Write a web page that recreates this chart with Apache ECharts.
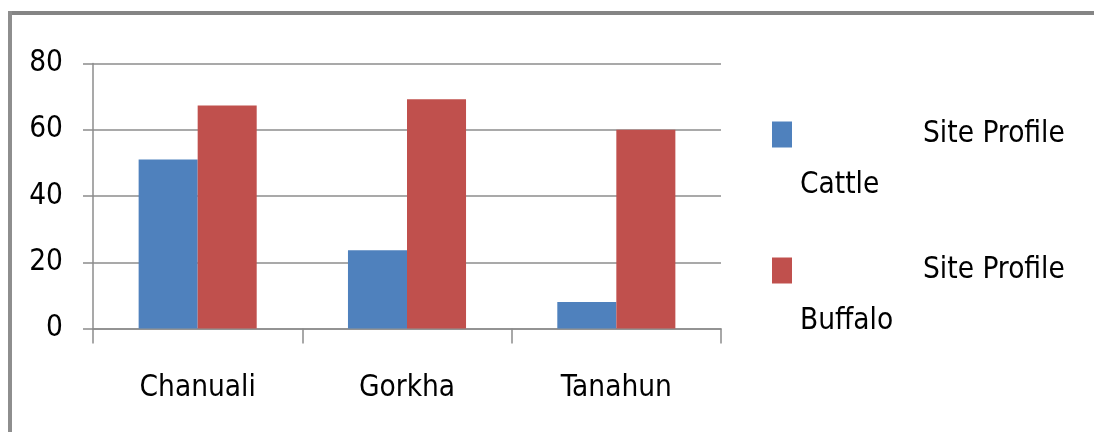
<!DOCTYPE html>
<html>
<head>
<meta charset="utf-8">
<script src="https://cdn.jsdelivr.net/npm/echarts@6/dist/echarts.min.js"></script>
<style>
html,body{margin:0;padding:0;background:#fff;}
#chart{width:1094px;height:432px;}
</style>
</head>
<body>
<div id="chart"></div>
<script>
const categories = ['Chanuali', 'Gorkha', 'Tanahun'];
const cattle = [51, 23.6, 8];
const buffalo = [67.3, 69.2, 60];
const seriesNames = ['Site Profile Cattle', 'Site Profile Buffalo'];
const legendFirstLine = ['Site Profile', 'Site Profile'];
const legendSecondLine = ['Cattle', 'Buffalo'];
const yTicks = [0, 20, 40, 60, 80];

const FONT = "'DejaVu Sans Condensed', 'Liberation Sans Narrow', sans-serif";
const FS = 29.5;

function makeLegend(i, top) {
  return {
    data: [seriesNames[i]],
    left: 772,
    top: top,
    padding: 0,
    orient: 'vertical',
    itemWidth: 20,
    itemHeight: 26,
    icon: 'rect',
    selectedMode: false,
    formatter: function () {
      return '{a|' + legendFirstLine[i] + '}\n{b|' + legendSecondLine[i] + '}';
    },
    textStyle: {
      fontFamily: FONT,
      fontSize: FS,
      color: '#000',
      lineHeight: 51,
      padding: [51, 0, 0, 3],
      rich: {
        a: { fontFamily: FONT, fontSize: FS, color: '#000', lineHeight: 51, padding: [0, 0, 0, 123] },
        b: { fontFamily: FONT, fontSize: FS, color: '#000', lineHeight: 51 }
      }
    }
  };
}

const chart = echarts.init(document.getElementById('chart'), null, { renderer: 'canvas' });
chart.setOption({
  backgroundColor: '#ffffff',
  animation: false,
  graphic: [
    { type: 'line', shape: { x1: 8, y1: 13, x2: 1094, y2: 13 }, style: { stroke: '#858585', lineWidth: 4 } },
    { type: 'line', shape: { x1: 10, y1: 11, x2: 10, y2: 432 }, style: { stroke: '#8e8e8e', lineWidth: 4 } }
  ],
  grid: { left: 93, right: 373, top: 63.5, bottom: 103.5, containLabel: false },
  legend: [makeLegend(0, 58), makeLegend(1, 194)],
  xAxis: {
    type: 'category',
    data: categories,
    axisLine: { lineStyle: { color: '#8c8c8c', width: 1.5 } },
    axisTick: { show: true, length: 15, alignWithLabel: false, lineStyle: { color: '#8c8c8c', width: 1.5 } },
    axisLabel: { fontFamily: FONT, fontSize: FS, color: '#000', margin: 45 },
    splitLine: { show: false }
  },
  yAxis: {
    type: 'value',
    min: yTicks[0],
    max: yTicks[yTicks.length - 1],
    interval: 20,
    axisLine: { show: true, lineStyle: { color: '#8c8c8c', width: 1.5 } },
    axisTick: { show: true, length: 10, lineStyle: { color: '#8c8c8c', width: 1.5 } },
    axisLabel: { fontFamily: FONT, fontSize: FS, color: '#000', margin: 30 },
    splitLine: { show: true, lineStyle: { color: '#8c8c8c', width: 1.5 } }
  },
  series: [
    {
      name: seriesNames[0], type: 'bar', data: cattle,
      barGap: '0%', barCategoryGap: '43.6%',
      itemStyle: { color: '#4F81BD' }
    },
    {
      name: seriesNames[1], type: 'bar', data: buffalo,
      barGap: '0%', barCategoryGap: '43.6%',
      itemStyle: { color: '#C0504D' }
    }
  ]
});
</script>
</body>
</html>
